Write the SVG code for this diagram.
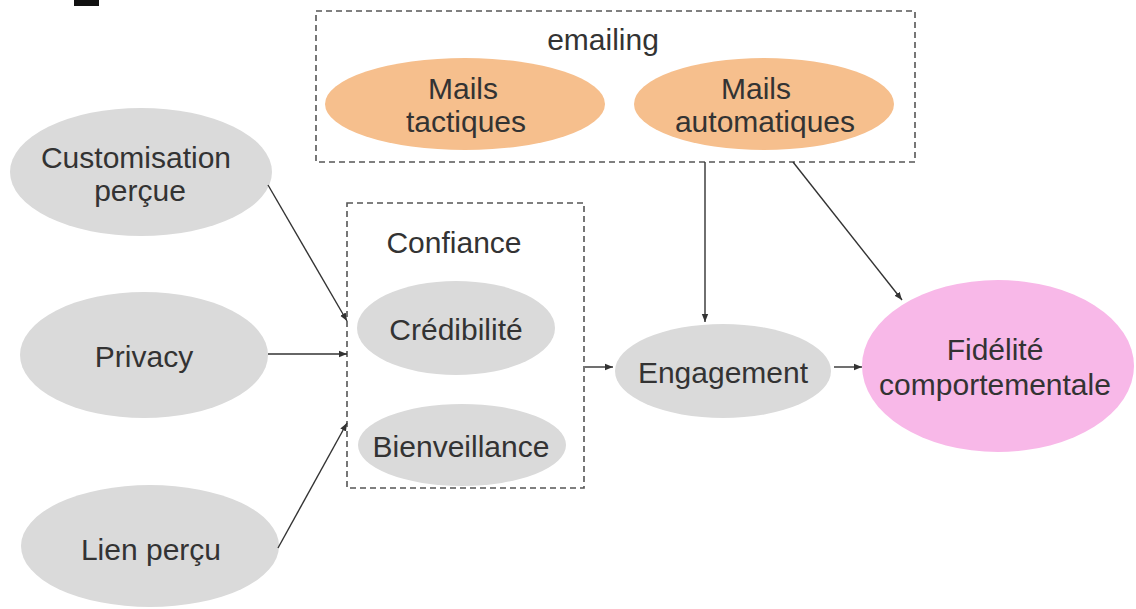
<svg xmlns="http://www.w3.org/2000/svg" width="1136" height="609" viewBox="0 0 1136 609">
<style>
.t{font-family:"Liberation Sans",Arial,sans-serif;font-size:30px;fill:#333;text-anchor:middle}
.g{fill:#dadada}
.o{fill:#f6bf8d}
.p{fill:#f8b8e8}
.box{fill:none;stroke:#555;stroke-width:1.6;stroke-dasharray:6 4}
.c{stroke:#333;stroke-width:1.4;fill:none;marker-end:url(#ah)}
</style>
<defs>
<marker id="ah" viewBox="0 0 10 10" refX="10" refY="5" markerWidth="8" markerHeight="8" markerUnits="userSpaceOnUse" orient="auto">
<path d="M0,1 L10,5 L0,9 Z" fill="#333"/>
</marker>
</defs>
<rect width="1136" height="609" fill="#fff"/>
<rect x="74" y="0" width="25" height="6" fill="#111"/>

<g id="emailing">
<rect class="box" x="316" y="11" width="599" height="151"/>
<text class="t" x="603" y="50">emailing</text>
</g>
<g id="mails-tactiques">
<ellipse class="o" cx="465" cy="104" rx="140" ry="46"/>
<text class="t" x="463" y="99">Mails</text>
<text class="t" x="466" y="132">tactiques</text>
</g>
<g id="mails-automatiques">
<ellipse class="o" cx="764" cy="104" rx="130" ry="46"/>
<text class="t" x="756" y="99">Mails</text>
<text class="t" x="765" y="132">automatiques</text>
</g>

<g id="customisation">
<ellipse class="g" cx="141" cy="172" rx="131" ry="64"/>
<text class="t" x="136" y="168">Customisation</text>
<text class="t" x="140" y="201">perçue</text>
</g>
<g id="privacy">
<ellipse class="g" cx="144" cy="355" rx="124" ry="63"/>
<text class="t" x="144" y="367">Privacy</text>
</g>
<g id="lien">
<ellipse class="g" cx="150" cy="546" rx="129" ry="61"/>
<text class="t" x="151" y="560">Lien perçu</text>
</g>

<g id="confiance">
<rect class="box" x="347" y="203" width="237" height="285"/>
<text class="t" x="454" y="253">Confiance</text>
</g>
<g id="credibilite">
<ellipse class="g" cx="456" cy="328" rx="99" ry="47"/>
<text class="t" x="456" y="340">Crédibilité</text>
</g>
<g id="bienveillance">
<ellipse class="g" cx="462" cy="445" rx="104" ry="41"/>
<text class="t" x="461" y="457">Bienveillance</text>
</g>

<g id="engagement">
<ellipse class="g" cx="723" cy="371" rx="108" ry="47"/>
<text class="t" x="723" y="383">Engagement</text>
</g>
<g id="fidelite">
<ellipse class="p" cx="998" cy="366" rx="136" ry="86"/>
<text class="t" x="995" y="360" fill="#3c2035">Fidélité</text>
<text class="t" x="995" y="395" fill="#3c2035">comportementale</text>
</g>

<g id="connectors">
<line class="c" x1="268" y1="185" x2="347" y2="321"/>
<line class="c" x1="268" y1="354" x2="347" y2="354"/>
<line class="c" x1="278" y1="548" x2="347" y2="423"/>
<line class="c" x1="585" y1="367" x2="613" y2="367"/>
<line class="c" x1="705" y1="162" x2="705" y2="322"/>
<line class="c" x1="793" y1="162" x2="902" y2="300"/>
<line class="c" x1="834" y1="367" x2="862" y2="367"/>
</g>
</svg>
